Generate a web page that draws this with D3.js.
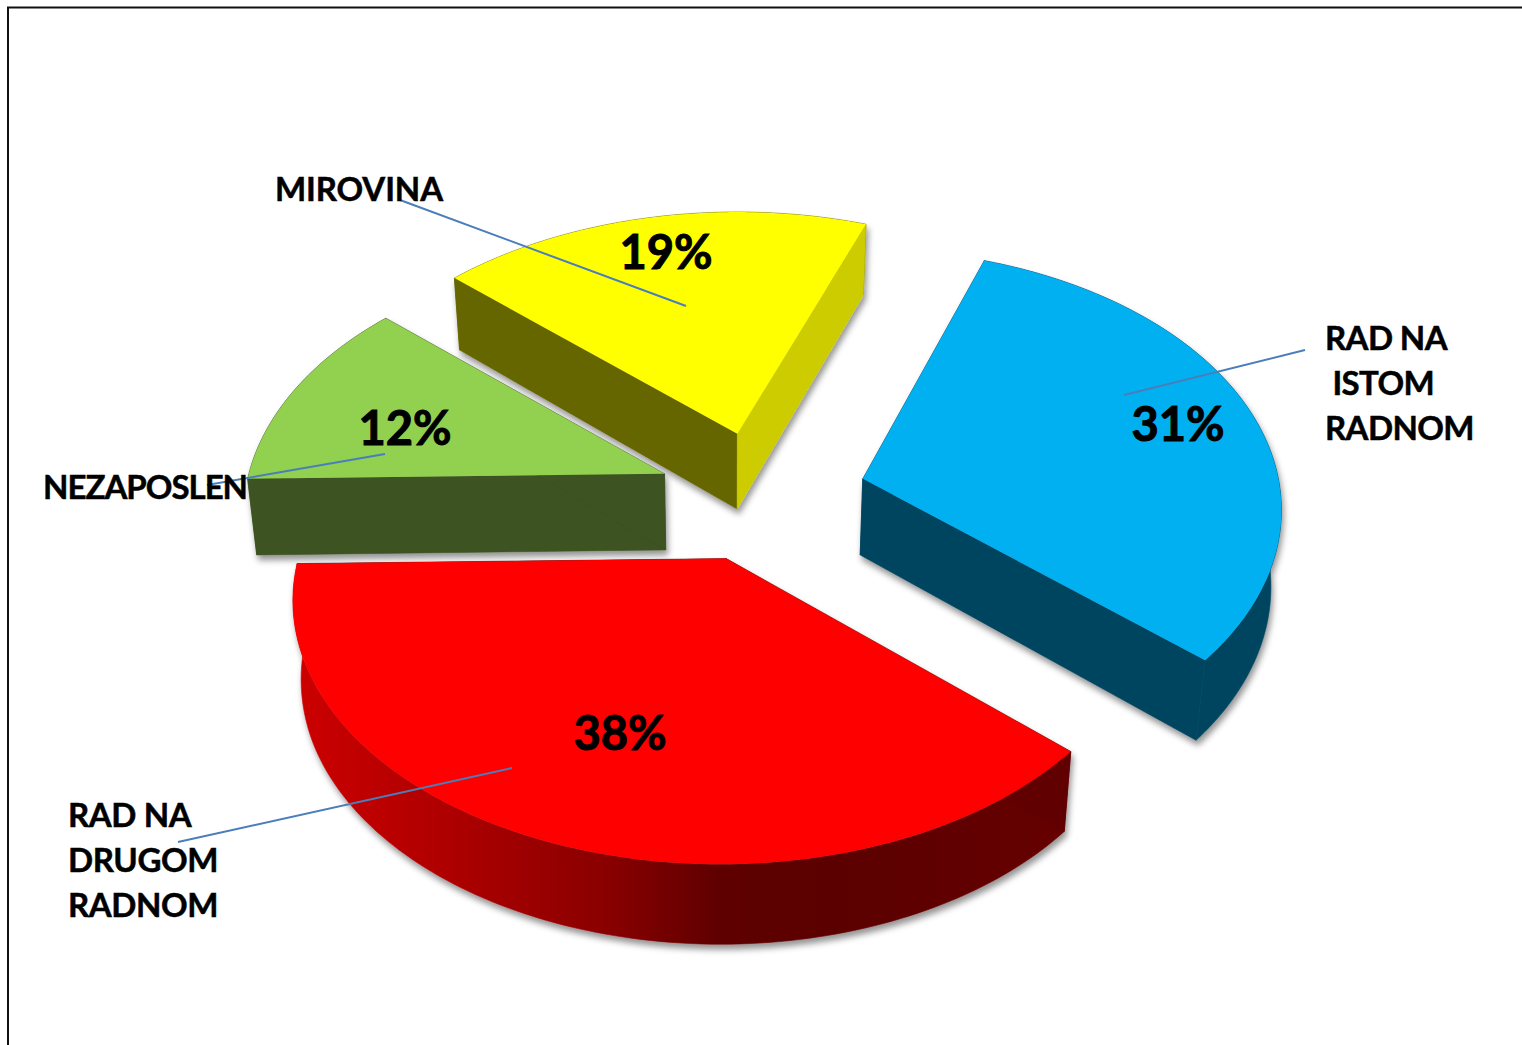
<!DOCTYPE html>
<html><head><meta charset="utf-8">
<script src="https://cdn.jsdelivr.net/npm/d3@7"></script>
<style>html,body{margin:0;padding:0;background:#fff;overflow:hidden}svg{display:block}text{font-family:Lato,"Open Sans",sans-serif;font-weight:700;fill:#000;stroke:#000}</style>
</head><body><svg id="c" width="1522" height="1045"></svg>
<script>
// ---- data ----
const categories = ["RAD NA ISTOM RADNOM", "RAD NA DRUGOM RADNOM", "NEZAPOSLEN", "MIROVINA"];
const values = [31, 38, 12, 19];
const percentLabels = ["31%", "38%", "12%", "19%"];
const topColors = ["#00b0f0", "#ff0000", "#92d050", "#ffff00"];
const outerWallColors = ["#004561", "url(#redWall)", "#3c5321", "#666600"];
const startWallColors = ["#004561", "#600000", "#3c5321", "#666600"];
const endWallColors = ["#004561", "#600000", "#3c5321", "#cccc00"];

// ---- layout ----
const W = 1522, H = 1045;
const center = [762, 495.5], explode = 0.25;
const A = 422, B = 257;          // perspective of the pie plane
const rotation = 19 * Math.PI / 180;
// small per-slice correction of the picture's perspective
const sliceFit = [
  {turn:0,   K:0.12,  sx:0.985, shift:0,  nudge:[0,0]},
  {turn:1.5, K:0.159, sx:1,     shift:-6, nudge:[0,0]},
  {turn:1.5, K:0.159, sx:0.985, shift:0,  nudge:[1,-1]},
  {turn:1.5, K:0.159, sx:1,     shift:0,  nudge:[2,-2]}
];
const labelLayout = [
  {lines:["RAD NA"," ISTOM","RADNOM"], x:1325, y:350, dy:45, pct:[1178,441], lead:[[1305,350],[1124,395]], ls:-0.6},
  {lines:["RAD NA","DRUGOM","RADNOM"], x:68, y:827, dy:45, pct:[620,750], lead:[[178,842],[512,768]], ls:-0.4},
  {lines:["NEZAPOSLEN"], x:43, y:499, dy:0, pct:[405,445], lead:[[207,485],[385,454]], ls:-1},
  {lines:["MIROVINA"], x:275, y:201, dy:0, pct:[666,269], lead:[[400,200],[686,306]], ls:-0.1}
];

const svg = d3.select("#c");
const defs = svg.append("defs");
const sh = defs.append("filter").attr("id","shadow").attr("x","-10%").attr("y","-10%").attr("width","120%").attr("height","125%");
sh.append("feDropShadow").attr("dx",2).attr("dy",5).attr("stdDeviation",3).attr("flood-color","#000").attr("flood-opacity",0.42);
const g = defs.append("linearGradient").attr("id","redWall").attr("gradientUnits","userSpaceOnUse")
  .attr("x1",296).attr("y1",0).attr("x2",1068).attr("y2",0);
[[0,"#cc0000"],[0.2,"#ad0000"],[0.4,"#8a0000"],[0.55,"#5e0000"],[0.7,"#5a0000"],[1,"#660000"]]
  .forEach(([o,c]) => g.append("stop").attr("offset",o).attr("stop-color",c));

svg.append("path").attr("d",`M8,${H} V7.5 H${W}`).attr("fill","none").attr("stroke","#111").attr("stroke-width",2);

const pie = d3.pie().sort(null).value(d => d).startAngle(rotation).endAngle(rotation + 2*Math.PI);
const arcs = pie(values);

// plane projection: disc coordinates -> screen offsets
const proj = (u, v, K) => { const w = 1 + K*v; return [A*u/w, -B*v/w]; };
// extrusion of the slice: x converges, y grows towards the viewer up to a limit
const sink = p => [p[0] + 0.019*(727-p[0]), p[1] + Math.min(80, 72 + 0.0211*(p[1]-281))];
const line = d3.line();

const slices = arcs.map((a,i) => {
  const f = sliceFit[i], turn = f.turn*Math.PI/180;
  const mid = (a.startAngle + a.endAngle)/2;
  const e = proj(explode*Math.sin(mid), explode*Math.cos(mid), 0.159);
  const apex = [center[0]+e[0]+f.nudge[0], center[1]+e[1]+f.nudge[1]];
  const rim = d3.range(0, 121).map(k => {
    const t = a.startAngle + turn + (a.endAngle-a.startAngle)*k/120;
    const p = proj(Math.sin(t), Math.cos(t), f.K);
    return [apex[0] + p[0]*f.sx + f.shift, apex[1] + p[1]];
  });
  return {i, apex, rim};
});

// back to front
[3,2,0,1].forEach(i => {
  const s = slices[i];
  const gr = svg.append("g").attr("filter","url(#shadow)");
  const first = s.rim[0], last = s.rim[s.rim.length-1];
  const wall = (pts, c) => gr.append("path").attr("d", line(pts) + "Z").attr("fill", c).attr("stroke", c).attr("stroke-width",0.6);
  wall(s.rim.concat(s.rim.slice().reverse().map(sink)), outerWallColors[i]);
  wall([s.apex,first,sink(first),sink(s.apex)], startWallColors[i]);
  wall([s.apex,last,sink(last),sink(s.apex)], endWallColors[i]);
  gr.append("path").attr("d", line([s.apex].concat(s.rim)) + "Z").attr("fill", topColors[i]);
});

// leader lines
svg.append("g").selectAll("line").data(labelLayout).join("line")
  .attr("x1",d=>d.lead[0][0]).attr("y1",d=>d.lead[0][1]).attr("x2",d=>d.lead[1][0]).attr("y2",d=>d.lead[1][1])
  .attr("stroke","#4a7ebb").attr("stroke-width",2);

// category labels
labelLayout.forEach(d => {
  const t = svg.append("text").attr("font-size",33).attr("stroke-width",0.5).style("white-space","pre").style("letter-spacing",d.ls+"px");
  d.lines.forEach((l,k) => t.append("tspan").attr("x",d.x).attr("y",d.y+k*d.dy).text(l));
});
// percent labels
svg.append("g").selectAll("text").data(percentLabels).join("text")
  .attr("x",(d,i)=>labelLayout[i].pct[0]).attr("y",(d,i)=>labelLayout[i].pct[1])
  .attr("text-anchor","middle").attr("font-size",47).attr("stroke-width",1).text(d=>d);
</script></body></html>
